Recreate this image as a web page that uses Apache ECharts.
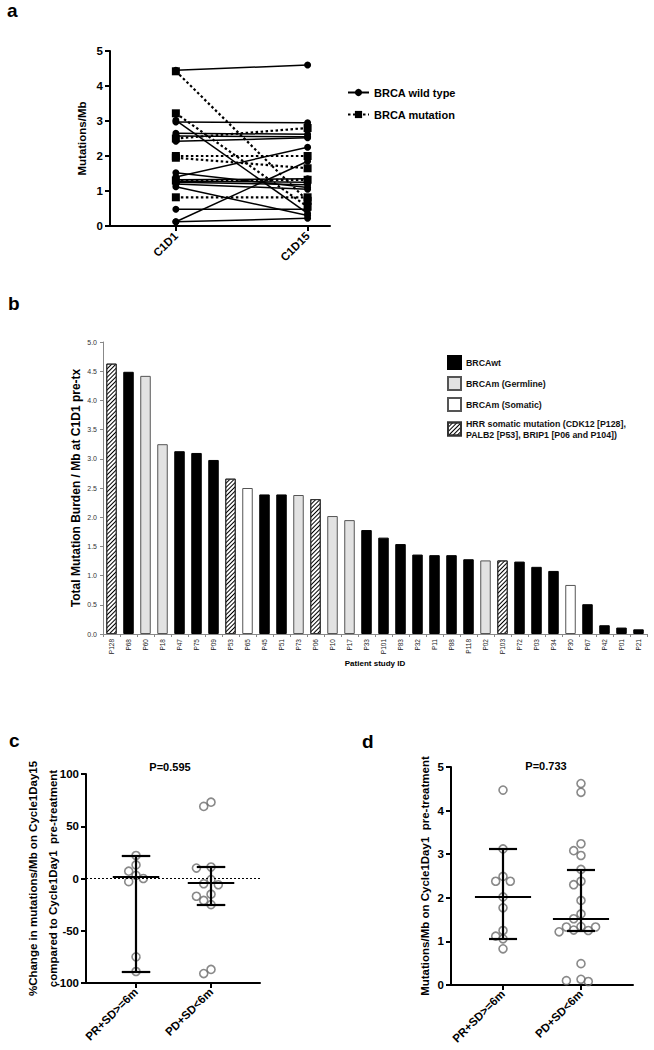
<!DOCTYPE html>
<html><head><meta charset="utf-8">
<script src="https://cdn.jsdelivr.net/npm/echarts@6/dist/echarts.min.js"></script>
<style>html,body{margin:0;padding:0;background:#fff}#c{width:654px;height:1050px}</style>
</head><body><div id="c"></div>
<script>
// ---------- Panel a ----------
const timepoints = ['C1D1', 'C1D15'];
const wtPairs = [[4.45,4.60],[3.02,0.36],[2.97,2.95],[2.65,2.62],[2.57,2.55],[2.42,2.52],[1.52,1.10],[1.40,2.25],[1.32,1.35],[1.28,1.25],[1.25,1.18],[1.20,1.05],[1.12,0.30],[0.48,0.48],[0.12,1.85],[0.12,0.22]];
const mutPairs = [[4.42,0.72],[3.22,0.55],[2.50,2.80],[2.00,2.00],[1.95,1.65],[1.30,1.32],[0.82,0.82]];

// ---------- Panel b ----------
const patients = ['P128','P68','P60','P18','P47','P75','P09','P53','P65','P45','P51','P73','P06','P10','P17','P33','P101','P83','P32','P11','P88','P118','P02','P103','P72','P03','P34','P30','P67','P42','P01','P21'];
const tmb = [4.63,4.49,4.42,3.25,3.13,3.10,2.98,2.66,2.50,2.39,2.39,2.38,2.31,2.02,1.95,1.78,1.65,1.54,1.36,1.35,1.35,1.28,1.26,1.26,1.24,1.15,1.08,0.84,0.51,0.15,0.11,0.08];
const status = ['HRR','wt','germ','germ','wt','wt','wt','HRR','som','wt','wt','germ','HRR','germ','germ','wt','wt','wt','wt','wt','wt','wt','germ','HRR','wt','wt','wt','som','wt','wt','wt','wt'];
const statusNames = {wt:'BRCAwt', germ:'BRCAm (Germline)', som:'BRCAm (Somatic)', HRR:'HRR somatic mutation (CDK12 [P128],\nPALB2 [P53], BRIP1 [P06 and P104])'};

// ---------- Panels c & d ----------
const groups = ['PR+SD>=6m', 'PD+SD<6m'];
const cPR = [22,13,3,7,-3,0,-75,-89];
const cPD = [73,69,10,11,-1,-5,-6,-15,-17,-21,-25,-87,-91];
const cMedian = [2,-4], cLow = [-89,-25], cHigh = [22,11];
const dPR = [4.47,3.12,2.49,2.38,2.38,2.02,1.77,1.25,1.06,1.12,0.83];
const dPD = [4.62,4.42,3.24,3.08,2.97,2.65,2.30,2.38,1.94,1.52,1.63,1.34,1.33,1.33,1.26,1.25,1.22,0.49,0.08,0.13,0.10];
const dMedian = [2.03,1.53], dLow = [1.07,1.25], dHigh = [3.12,2.65];

const FONT = '"Liberation Sans", Arial, Helvetica, sans-serif';
const chart = echarts.init(document.getElementById('c'), null, {renderer:'svg', width:654, height:1050});

function blackAxis(extra){
  return Object.assign({
    axisLine:{show:true, onZero:false, lineStyle:{color:'#000', width:2}},
    axisTick:{show:true, length:5, lineStyle:{color:'#000', width:2}},
    splitLine:{show:false}, nameMoveOverlap:false
  }, extra);
}
const boldLbl = {fontFamily:FONT, fontWeight:'bold', fontSize:11.5, color:'#000'};

const series = [];
// panel a lines
wtPairs.forEach(p => series.push({
  type:'line', name:'BRCA wild type', xAxisIndex:0, yAxisIndex:0,
  data:[[0,p[0]],[1,p[1]]], symbol:'circle', symbolSize:7,
  lineStyle:{color:'#000', width:1.5, type:'solid'}, itemStyle:{color:'#000'}, silent:true
}));
mutPairs.forEach(p => series.push({
  type:'line', name:'BRCA mutation', xAxisIndex:0, yAxisIndex:0,
  data:[[0,p[0]],[1,p[1]]], symbol:'rect', symbolSize:8,
  lineStyle:{color:'#000', width:2.2, type:[2.5,2.5]}, itemStyle:{color:'#000'}, silent:true
}));
// panel b bars
const barStyles = {
  wt:{color:'#000', borderColor:'#000', borderWidth:1},
  germ:{color:'#e2e2e2', borderColor:'#555', borderWidth:1},
  som:{color:'#fff', borderColor:'#555', borderWidth:1},
  HRR:{color:'#fff', borderColor:'#333', borderWidth:1,
       decal:{symbol:'rect', symbolSize:1, dashArrayX:[1,0], dashArrayY:[1,1.6], rotation:-Math.PI/4, color:'#000'}}
};
['wt','germ','som','HRR'].forEach(k => series.push({
  type:'bar', name:statusNames[k], xAxisIndex:1, yAxisIndex:1, stack:'b', barWidth:10.5,
  data: tmb.map((v,i) => status[i]===k ? v : '-'), itemStyle:barStyles[k], silent:true
}));
// panel c/d scatter + error bars
const circleStyle = {color:'rgba(255,255,255,0)', borderColor:'#6b6b6b', borderWidth:1.6};
function scatterSeries(id, ax, vals, g){
  return {id, type:'scatter', xAxisIndex:ax, yAxisIndex:ax, symbol:'circle', symbolSize:8,
    itemStyle:circleStyle, data: vals.map(v => [g, v]), silent:true, z:3};
}
series.push(scatterSeries('cPR',2,cPR,0), scatterSeries('cPD',2,cPD,1), scatterSeries('dPR',3,dPR,0), scatterSeries('dPD',3,dPD,1));
function errSegs(med, lo, hi, mw, cw){
  const segs = [];
  med.forEach((m,g) => {
    segs.push({coords:[[g-mw,m],[g+mw,m]]});
    segs.push({coords:[[g-cw,hi[g]],[g+cw,hi[g]]]});
    segs.push({coords:[[g-cw,lo[g]],[g+cw,lo[g]]]});
    segs.push({coords:[[g,lo[g]],[g,hi[g]]]});
  });
  return segs;
}
series.push({type:'lines', coordinateSystem:'cartesian2d', xAxisIndex:2, yAxisIndex:2,
  data: errSegs(cMedian,cLow,cHigh,0.31,0.19), lineStyle:{color:'#000', width:2.2, opacity:1}, silent:true, z:4,
  markLine:{silent:true, symbol:['none','none'], label:{show:false}, data:[{yAxis:0}], lineStyle:{color:'#000', type:[2,2], width:1.2}}});
series.push({type:'lines', coordinateSystem:'cartesian2d', xAxisIndex:3, yAxisIndex:3,
  data: errSegs(dMedian,dLow,dHigh,0.36,0.18), lineStyle:{color:'#000', width:2.2, opacity:1}, silent:true, z:4});

const option = {
  animation:false,
  textStyle:{fontFamily:FONT},
  grid:[
    {left:110, top:51, width:220, height:175},
    {left:103, top:342, width:544, height:292},
    {left:86, top:774, width:174, height:209},
    {left:451, top:767, width:182, height:218}
  ],
  xAxis:[
    blackAxis({type:'value', gridIndex:0, min:-0.5, max:1.17,
      axisTick:{show:true, length:5, customValues:[0,1], lineStyle:{color:'#000', width:2}},
      axisLabel:Object.assign({customValues:[0,1], rotate:45, margin:8, formatter:v=>timepoints[Math.round(v)]}, boldLbl)}),
    {type:'category', gridIndex:1, data:patients, nameMoveOverlap:false,
      axisLine:{show:true, lineStyle:{color:'#888', width:1}},
      axisTick:{show:true, length:3, lineStyle:{color:'#888'}},
      axisLabel:{interval:0, rotate:90, fontSize:6.5, color:'#222', margin:5, fontFamily:FONT},
      name:'Patient study ID', nameLocation:'middle', nameGap:25,
      nameTextStyle:{fontFamily:FONT, fontWeight:'bold', fontSize:8, color:'#000'}},
    blackAxis({type:'value', gridIndex:2, min:-0.667, max:1.653,
      axisTick:{show:true, length:5, customValues:[0,1], lineStyle:{color:'#000', width:2}},
      axisLabel:Object.assign({customValues:[0,1], rotate:45, margin:7, formatter:v=>groups[Math.round(v)]}, boldLbl)}),
    blackAxis({type:'value', gridIndex:3, min:-0.667, max:1.667,
      axisTick:{show:true, length:5, customValues:[0,1], lineStyle:{color:'#000', width:2}},
      axisLabel:Object.assign({customValues:[0,1], rotate:45, margin:7, formatter:v=>groups[Math.round(v)]}, boldLbl)})
  ],
  yAxis:[
    blackAxis({type:'value', gridIndex:0, min:0, max:5, interval:1,
      axisLabel:Object.assign({margin:7}, boldLbl),
      name:'Mutations/Mb', nameLocation:'middle', nameRotate:90, nameGap:21,
      nameTextStyle:{fontFamily:FONT, fontWeight:'bold', fontSize:11.5, color:'#000', lineHeight:14}}),
    {type:'value', gridIndex:1, min:0, max:5, interval:0.5, nameMoveOverlap:false,
      axisLine:{show:true, lineStyle:{color:'#888', width:1}},
      axisTick:{show:true, length:3, lineStyle:{color:'#888'}},
      splitLine:{show:false},
      axisLabel:{fontSize:7, color:'#333', margin:6, fontFamily:FONT, formatter:v=>v.toFixed(1)},
      name:'Total Mutation Burden / Mb at C1D1 pre-tx', nameLocation:'middle', nameRotate:90, nameGap:20,
      nameTextStyle:{fontFamily:FONT, fontWeight:'bold', fontSize:12, color:'#000', lineHeight:14}},
    blackAxis({type:'value', gridIndex:2, min:-100, max:100, interval:50,
      axisLabel:Object.assign({margin:7}, boldLbl),
      name:'%Change in mutations/Mb on Cycle1Day15\ncompared to Cycle1Day1  pre-treatment', nameLocation:'middle', nameRotate:90, nameGap:23,
      nameTextStyle:{fontFamily:FONT, fontWeight:'bold', fontSize:11.5, color:'#000', lineHeight:20}}),
    blackAxis({type:'value', gridIndex:3, min:0, max:5, interval:1,
      axisLabel:Object.assign({margin:7}, boldLbl),
      name:'Mutations/Mb on Cycle1Day1  pre-treatment', nameLocation:'middle', nameRotate:90, nameGap:19,
      nameTextStyle:{fontFamily:FONT, fontWeight:'bold', fontSize:11.5, color:'#000', lineHeight:14}})
  ],
  legend:[
    {data:['BRCA wild type','BRCA mutation'], orient:'vertical', left:347, top:87, itemWidth:21, itemHeight:9, itemGap:11,
      selectedMode:false, textStyle:{fontFamily:FONT, fontWeight:'bold', fontSize:11, color:'#000'}, padding:0},
    {data:['wt','germ','som','HRR'].map(k=>statusNames[k]), orient:'vertical', left:447, top:355, itemWidth:13, itemHeight:13, itemGap:6,
      icon:'rect', selectedMode:false, padding:0,
      textStyle:{fontFamily:FONT, fontWeight:'bold', fontSize:8.8, color:'#111', lineHeight:11}}
  ],
  graphic:[
    {type:'text', x:7, y:10.5, style:{text:'a', font:'bold 19px '+FONT, fill:'#000', verticalAlign:'middle'}},
    {type:'text', x:8, y:303.5, style:{text:'b', font:'bold 19px '+FONT, fill:'#000', verticalAlign:'middle'}},
    {type:'text', x:9, y:740.5, style:{text:'c', font:'bold 19px '+FONT, fill:'#000', verticalAlign:'middle'}},
    {type:'text', x:362, y:741.5, style:{text:'d', font:'bold 19px '+FONT, fill:'#000', verticalAlign:'middle'}},
    {type:'text', x:170, y:767, style:{text:'P=0.595', font:'bold 11px '+FONT, fill:'#000', align:'center', verticalAlign:'middle'}},
    {type:'text', x:546, y:766, style:{text:'P=0.733', font:'bold 11px '+FONT, fill:'#000', align:'center', verticalAlign:'middle'}}
  ],
  series
};
chart.setOption(option);

// beeswarm spreading computed in pixel space
const STEP = 7.3, D = 7.6;
function swarm(vals, gi, g){
  const x0 = chart.convertToPixel({gridIndex:gi}, [0, 0])[0];
  const x1 = chart.convertToPixel({gridIndex:gi}, [1, 0])[0];
  const unit = x1 - x0;
  const pts = vals.map(v => ({v, py: chart.convertToPixel({gridIndex:gi}, [g, v])[1], dx:0}));
  const order = pts.slice().sort((a,b) => b.v - a.v);
  const placed = [];
  order.forEach(p => {
    let found = false;
    for (let k = 0; k < 20 && !found; k++) {
      const cands = k === 0 ? [0] : [-k, k];
      for (const c of cands) {
        const dx = c * STEP;
        if (placed.every(q => (q.dx-dx)*(q.dx-dx) + (q.py-p.py)*(q.py-p.py) >= D*D)) { p.dx = dx; found = true; break; }
      }
    }
    placed.push(p);
  });
  return pts.map(p => [g + p.dx/unit, p.v]);
}
chart.setOption({series:[
  {id:'cPR', data:swarm(cPR,2,0)}, {id:'cPD', data:swarm(cPD,2,1)},
  {id:'dPR', data:swarm(dPR,3,0)}, {id:'dPD', data:swarm(dPD,3,1)}
]});
</script></body></html>
